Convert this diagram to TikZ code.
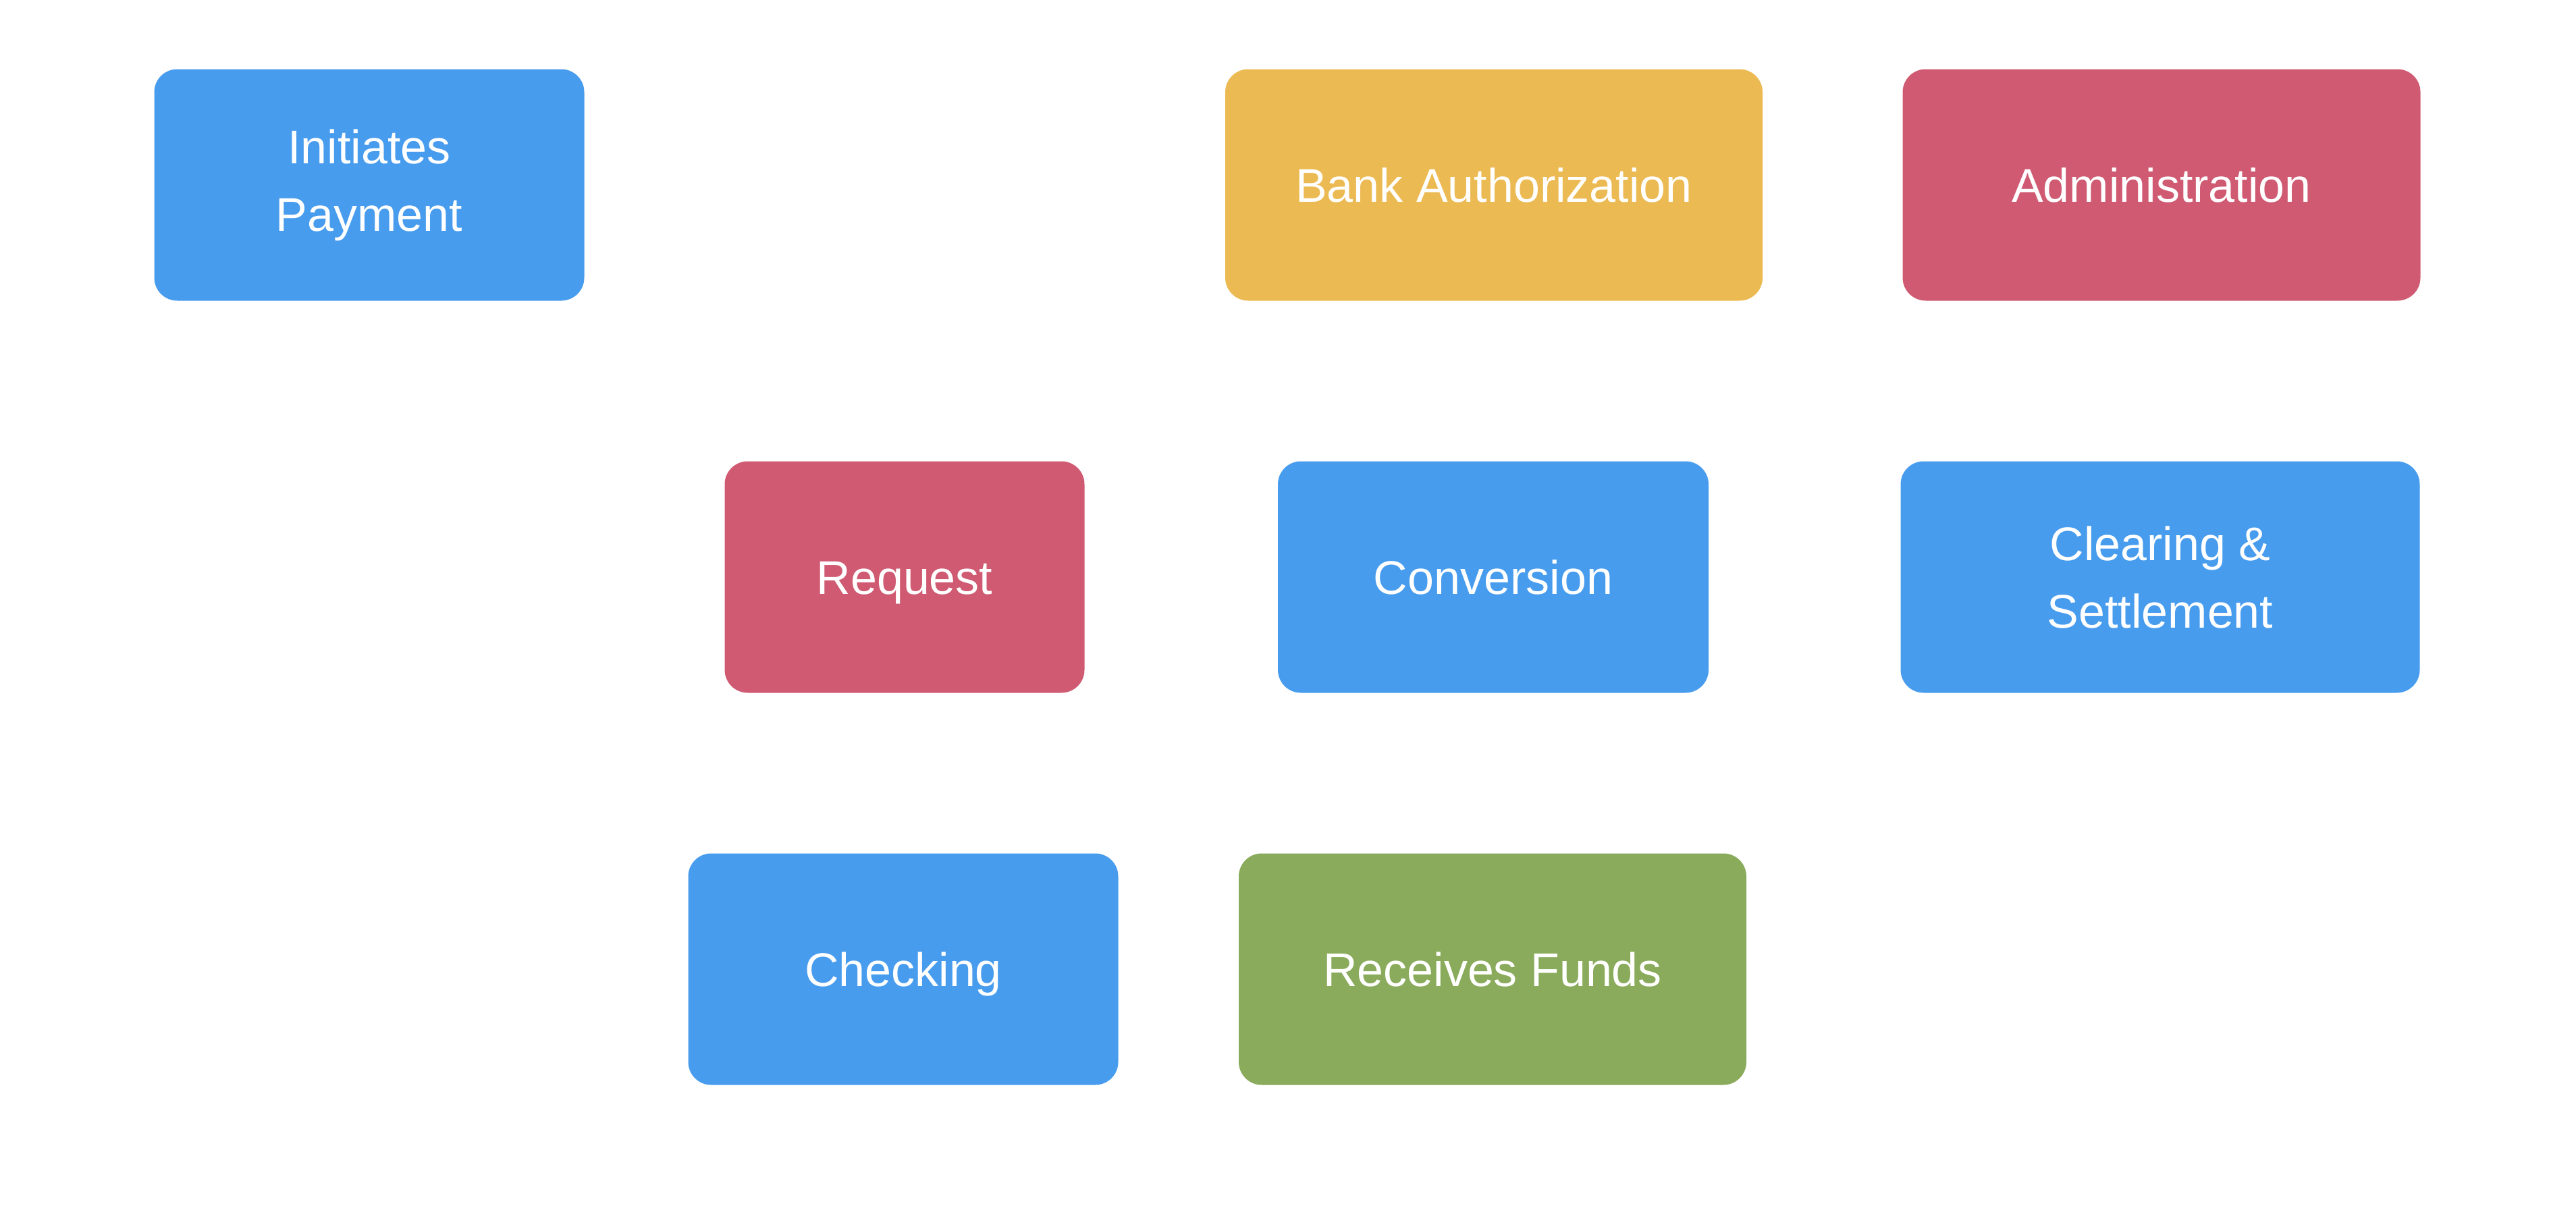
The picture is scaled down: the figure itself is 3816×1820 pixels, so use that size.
\documentclass[tikz,border=0pt]{standalone}
\usepackage{fontspec}
\setmainfont{Liberation Sans}
\definecolor{cblue}{HTML}{489CEE}
\definecolor{cred}{HTML}{CF5A72}
\definecolor{cyellow}{HTML}{ECBA52}
\definecolor{cgreen}{HTML}{8AAB5B}
\tikzset{
  box/.style={rectangle, rounded corners=17pt, draw=none, text=white,
    align=center, inner sep=0pt, minimum height=171.5pt,
    font=\fontsize{35}{50}\selectfont},
  oneline/.style={text height=25pt, text depth=0pt}
}
\begin{document}
\begin{tikzpicture}[x=0.5pt,y=-0.5pt]
\useasboundingbox[fill=white] (0,0) rectangle (3816,1820);
\node[box, fill=cblue, minimum width=318.5pt] (init) at (547,274) {Initiates\\Payment};
\node[box, oneline, fill=cyellow, minimum width=398pt] (bank) at (2213,274) {Bank Authorization};
\node[box, oneline, fill=cred, minimum width=383.5pt] (admin) at (3202,274) {Administration};
\node[box, oneline, fill=cred, minimum width=266.5pt] (req) at (1340,855) {Request};
\node[box, oneline, fill=cblue, minimum width=319pt] (conv) at (2212,855) {Conversion};
\node[box, fill=cblue, minimum width=384.5pt] (clear) at (3200,855) {Clearing \&\\Settlement};
\node[box, oneline, fill=cblue, minimum width=318.5pt] (check) at (1338,1436) {Checking};
\node[box, oneline, fill=cgreen, minimum width=376pt] (recv) at (2211,1436) {Receives Funds};
\end{tikzpicture}
\end{document}
